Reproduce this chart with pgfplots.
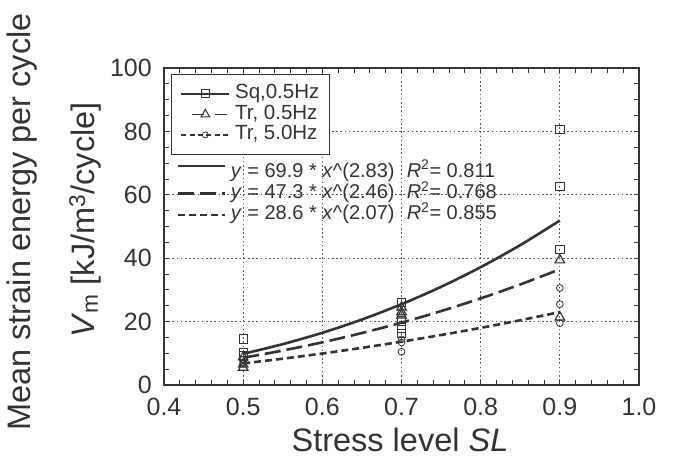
\documentclass[border=0pt]{standalone}
\usepackage{fontspec}
\setmainfont{Liberation Sans}
\usepackage{pgfplots}
\pgfplotsset{compat=1.18}
\definecolor{ink}{gray}{0.2}
\definecolor{gridc}{gray}{0.35}
\pgfplotsset{raisedimg/.style={legend image code/.code={\draw[##1] (0pt,6pt) -- (47pt,6pt);}}}
\begin{document}
\begin{tikzpicture}
\pgfplotsset{
  common/.style={
    scale only axis, width=475pt, height=317pt,
    at={(0pt,0pt)}, anchor=south west,
    xmin=0.4, xmax=1.0, ymin=0, ymax=100,
  },
}
\begin{axis}[
  common,
  xtick={0.4,0.5,0.6,0.7,0.8,0.9,1.0},
  ytick={0,20,40,60,80,100},
  minor x tick num=4, minor y tick num=3,
  tick align=inside, tick pos=both,
  xticklabel pos=lower, yticklabel pos=left,
  major tick length=5pt, minor tick length=5pt,
  every tick/.style={ink, line width=0.8pt},
  grid=major,
  major grid style={gridc, line width=0.9pt, dash pattern=on 1.6pt off 2.6pt},
  axis line style={ink, line width=1.3pt},
  /pgf/number format/assume math mode=true,
  ticklabel style={font=\fontsize{25}{28}\selectfont, text=ink, inner sep=0pt},
  xticklabel style={yshift=-13pt, /pgf/number format/.cd, fixed, fixed zerofill, precision=1},
  yticklabel style={xshift=-12pt, /pgf/number format/fixed},
  legend cell align=left,
  legend image code/.code={%
    \draw[#1, mark repeat=2, mark phase=2] plot coordinates {(0pt,0pt) (24pt,0pt) (48pt,0pt)};},
  legend style={at={(rel axis cs:0.0147,0.981)}, anchor=north west,
    draw=ink, line width=1.2pt, fill=white,
    font=\fontsize{20.5}{22}\selectfont, text=ink,
    inner xsep=9pt, inner ysep=9pt,
    nodes={inner sep=1pt, text height=14pt, text depth=4.5pt}, row sep=0pt,
    /tikz/every odd column/.style={column sep=4pt}},
]
\addlegendimage{ink, line width=1.5pt, mark=square, mark size=4pt, mark options={solid, line width=0.8pt}}
\addlegendentry{Sq,0.5Hz}
\addlegendimage{ink, line width=1.5pt, dash pattern=on 12pt off 11pt, dash phase=12pt, mark=triangle, mark size=5pt, mark options={solid, line width=1pt}}
\addlegendentry{Tr, 0.5Hz}
\addlegendimage{ink, line width=1.5pt, dash pattern=on 5pt off 3.3pt, mark=o, mark size=3pt, mark options={solid, line width=0.8pt}}
\addlegendentry{Tr, 5.0Hz}
% data points
\addplot[only marks, ink, mark=square, mark size=4.2pt, mark options={line width=0.8pt}, forget plot]
  coordinates {(0.5,14.5) (0.5,10.3) (0.5,9.2) (0.7,26.0) (0.7,20.2) (0.7,18.0) (0.7,16.3) (0.9,80.6) (0.9,62.6) (0.9,42.8)};
\addplot[only marks, ink, mark=triangle, mark size=5.5pt, mark options={line width=1.2pt}, forget plot]
  coordinates {(0.5,8.8) (0.5,6.5) (0.5,5.5) (0.7,24.5) (0.7,23.0) (0.7,22.0) (0.9,39.4) (0.9,21.4)};
\addplot[only marks, ink, mark=o, mark size=3.4pt, mark options={line width=0.8pt}, forget plot]
  coordinates {(0.5,8.0) (0.5,7.2) (0.5,6.8) (0.7,14.4) (0.7,13.4) (0.7,10.5) (0.9,30.6) (0.9,25.5) (0.9,19.5)};
\end{axis}
\begin{axis}[
  common, hide axis,
  legend cell align=left,
  legend image code/.code={%
    \draw[#1] (0pt,0pt) -- (47pt,0pt);},
  legend style={at={(rel axis cs:0.0269,0.7057)}, anchor=north west,
    draw=none, fill=none,
    font=\fontsize{20}{22}\selectfont, text=ink,
    inner sep=0pt,
    nodes={inner sep=1.2pt, text height=14.5pt, text depth=4.5pt}, row sep=0pt,
    /tikz/every odd column/.style={column sep=3pt}},
]
\addplot[ink, line width=2.6pt, smooth, raisedimg] coordinates {(0.5,9.83) (0.55,12.88) (0.6,16.47) (0.65,20.66) (0.7,25.48) (0.75,30.97) (0.8,37.17) (0.85,44.13) (0.9,51.87)};
\addlegendentry{\makebox[176pt][l]{\textit{y} = 69.9 * \textit{x}\textasciicircum(2.83)}\textit{R}\textsuperscript{2}= 0.811}
\addplot[ink, line width=2.6pt, dash pattern=on 16pt off 6pt, smooth] coordinates {(0.5,8.60) (0.55,10.87) (0.6,13.46) (0.65,16.39) (0.7,19.67) (0.75,23.31) (0.8,27.32) (0.85,31.71) (0.9,36.50)};
\addlegendentry{\makebox[176pt][l]{\textit{y} = 47.3 * \textit{x}\textasciicircum(2.46)}\textit{R}\textsuperscript{2}= 0.768}
\addplot[ink, line width=2.6pt, dash pattern=on 7pt off 4pt, smooth] coordinates {(0.5,6.81) (0.55,8.30) (0.6,9.94) (0.65,11.72) (0.7,13.67) (0.75,15.77) (0.8,18.02) (0.85,20.43) (0.9,23.00)};
\addlegendentry{\makebox[176pt][l]{\textit{y} = 28.6 * \textit{x}\textasciicircum(2.07)}\textit{R}\textsuperscript{2}= 0.855}
\end{axis}
\node[rotate=90, text=ink, font=\fontsize{32.5}{36}\selectfont] at (-142pt,163pt) {Mean strain energy per cycle};
\node[rotate=90, text=ink, font=\fontsize{32.5}{36}\selectfont] at (-79pt,165pt) {\textit{V}\textsubscript{m} [kJ/m\textsuperscript{3}/cycle]};
\node[anchor=base, text=ink, font=\fontsize{32.5}{36}\selectfont] at (236pt,-67pt) {Stress level \textit{SL}};
\pgfresetboundingbox
\useasboundingbox (-164pt,-73pt) rectangle (509pt,385pt);
\end{tikzpicture}
\end{document}
